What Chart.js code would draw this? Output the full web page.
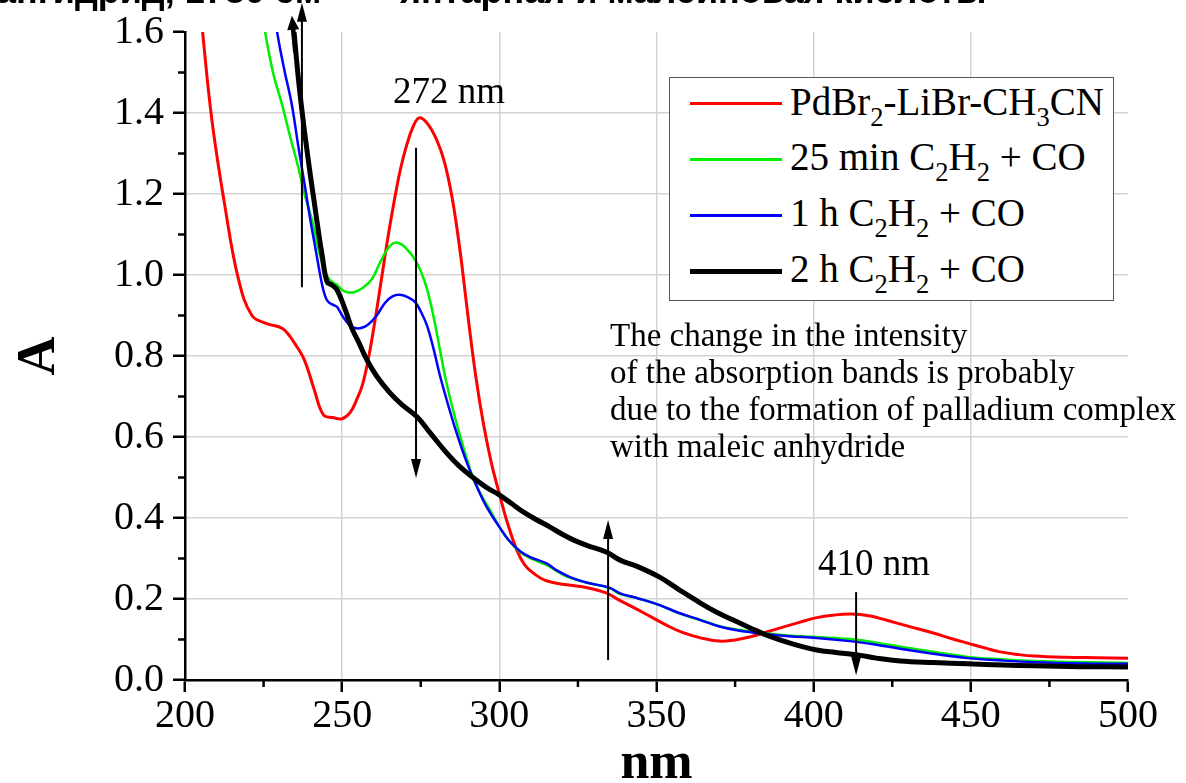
<!DOCTYPE html>
<html>
<head>
<meta charset="utf-8">
<script src="https://cdn.jsdelivr.net/npm/chart.js@4"></script>
<style>
  body { margin: 0; background: #fff; }
  #wrap { position: relative; width: 1186px; height: 783px; overflow: hidden; font-family: "Liberation Serif", serif; color: #000; }
  #chart { position: absolute; left: 0; top: 0; }
  .t { position: absolute; white-space: nowrap; }
  .ru { font-family: "Liberation Sans", sans-serif; font-weight: bold; font-size: 36px; line-height: 36px; top: -27px; }
  .peak { font-size: 37px; line-height: 37px; }
  .note { left: 610px; top: 317px; font-size: 33px; line-height: 37px; }
  #legendBox { position: absolute; left: 669px; top: 77px; width: 443px; height: 222px; border: 1.5px solid #555; background: #fff; }
  .lg { position: absolute; left: 790px; font-size: 39px; line-height: 39px; }
  .sw { position: absolute; left: 690px; width: 92px; }
  sub { font-size: 0.68em; vertical-align: -0.42em; line-height: 0; }
</style>
</head>
<body>
<div id="wrap">
  <canvas id="chart" width="1186" height="783"></canvas>
  <div class="t ru" style="left:-4px">ангидрид, 1780 см</div>
  <div class="t ru" style="left:400px">янтарная и малеиновая кислоты</div>

  <div class="t peak" style="left:393px; top:72px">272 nm</div>
  <div class="t peak" style="left:818px; top:544px">410 nm</div>

  <div class="t note">The change in the intensity<br>of the absorption bands is probably<br>due to the formation of palladium complex<br>with maleic anhydride</div>

  <div id="legendBox"></div>
  <div class="sw" style="top:101.5px; height:3px; background:#ff0000"></div>
  <div class="sw" style="top:157.5px; height:3px; background:#00ee00"></div>
  <div class="sw" style="top:213.5px; height:3px; background:#0000ff"></div>
  <div class="sw" style="top:268.5px; height:5px; background:#000"></div>
  <div class="t lg" style="top:82px">PdBr<sub>2</sub>-LiBr-CH<sub>3</sub>CN</div>
  <div class="t lg" style="top:137px">25 min C<sub>2</sub>H<sub>2</sub> + CO</div>
  <div class="t lg" style="top:193px">1 h C<sub>2</sub>H<sub>2</sub> + CO</div>
  <div class="t lg" style="top:249px">2 h C<sub>2</sub>H<sub>2</sub> + CO</div>
</div>
<script>
// series: [wavelength nm, absorbance]
const seriesLabels = ["PdBr2-LiBr-CH3CN", "25 min C2H2 + CO", "1 h C2H2 + CO", "2 h C2H2 + CO"];

const pdLiBr = [[205.0,1.66],[205.6,1.60],[208.6,1.38],[212.7,1.17],[217,0.99],[221.3,0.90],[226,0.88],[231,0.868],
  [235,0.83],[238,0.79],[241,0.72],[244,0.655],[247,0.648],[250,0.645],[252.5,0.66],[254.5,0.69],[256.5,0.73],
  [258.5,0.80],[260.5,0.89],[262.5,0.99],[264.5,1.09],[266.5,1.18],[268.5,1.26],[270.5,1.32],[272.5,1.365],
  [274.5,1.388],[277,1.375],[280,1.335],[282.5,1.28],[285,1.19],[287.5,1.06],[290,0.90],[292.5,0.75],[295,0.63],
  [297.5,0.535],[300,0.46],[302.5,0.39],[305.6,0.32],[308,0.285],[310.8,0.264],[315,0.245],[321.5,0.235],[328,0.228],
  [334,0.215],[338,0.198],[342.5,0.18],[348,0.157],[353,0.136],[358,0.118],[364,0.104],[370,0.096],[375,0.099],
  [380,0.107],[384,0.116],[390,0.13],[395.7,0.143],[401,0.154],[406,0.16],[412,0.163],[418,0.158],[423,0.148],
  [430,0.133],[438,0.116],[444,0.102],[449,0.091],[455,0.078],[459,0.07],[465,0.063],[470,0.059],[480,0.056],
  [490,0.055],[500,0.054]];

const min25 = [[224.8,1.64],[225.5,1.60],[228,1.50],[230.9,1.42],[233.5,1.34],[236,1.267],[238,1.20],[240.4,1.136],
  [242,1.08],[243.6,1.03],[245,1.0],[246.8,0.983],[248.5,0.975],[250,0.963],[252,0.957],[254,0.958],[256.5,0.968],
  [259.5,0.99],[262,1.03],[264.5,1.065],[266.8,1.08],[269,1.075],[271,1.06],[273,1.04],[275,1.01],[277,0.965],
  [279,0.90],[281,0.82],[283,0.74],[285.5,0.66],[288,0.59],[291.6,0.50],[294,0.46],[297,0.42],[300,0.378],[303,0.345],
  [306.6,0.316],[310,0.30],[315,0.284],[318,0.27],[322.5,0.252],[328,0.24],[335,0.227],[338.4,0.212],[344,0.202],
  [351,0.185],[357,0.165],[364,0.148],[370,0.133],[376,0.124],[384,0.116],[392,0.11],[401,0.106],[411.6,0.101],
  [420,0.092],[427.5,0.082],[438,0.07],[449,0.057],[460,0.051],[470,0.047],[485,0.044],[500,0.042]];

const hour1 = [[228.7,1.64],[229.3,1.60],[231.5,1.51],[234,1.42],[236,1.32],[238.2,1.217],[240,1.13],[241.4,1.07],
  [243,1.0],[244,0.963],[245,0.94],[246,0.931],[247.5,0.925],[248.4,0.921],[250,0.90],[251,0.889],[252.5,0.875],
  [254,0.869],[256,0.869],[258.2,0.877],[261,0.90],[263.6,0.931],[266,0.947],[268.4,0.951],[271,0.945],[273.2,0.933],
  [275,0.91],[277,0.875],[279,0.82],[281,0.755],[283.5,0.685],[286,0.62],[289.7,0.536],[293,0.475],[296,0.427],
  [300,0.378],[303,0.345],[306.6,0.318],[310,0.303],[315,0.288],[318,0.272],[322.5,0.254],[328,0.24],[335,0.228],
  [338.4,0.214],[344,0.202],[351,0.185],[357,0.166],[364,0.148],[370,0.132],[376,0.122],[384,0.114],[392,0.108],
  [401,0.104],[411.6,0.096],[420,0.087],[427.5,0.077],[438,0.065],[449,0.054],[460,0.048],[470,0.044],[485,0.041],
  [500,0.04]];

const hour2 = [[234.7,1.60],[236,1.49],[237.3,1.40],[238.6,1.32],[240,1.24],[241.3,1.17],[242.4,1.11],[243.6,1.05],
  [245.2,0.983],[246.8,0.975],[248.4,0.963],[251,0.914],[253,0.87],[255.5,0.83],[257.9,0.79],[261,0.75],
  [265.2,0.709],[269,0.68],[273.8,0.65],[278,0.61],[283.3,0.56],[287,0.53],[291.6,0.50],[296,0.475],[300,0.457],
  [304,0.435],[307.6,0.415],[312,0.395],[316,0.378],[320,0.36],[323.5,0.346],[328,0.332],[334,0.316],[338.4,0.296],
  [344,0.28],[351,0.254],[357,0.224],[364,0.19],[369,0.168],[374.4,0.148],[380,0.128],[385,0.111],[393,0.09],
  [401,0.074],[407,0.068],[414,0.062],[420,0.054],[427.5,0.047],[438,0.043],[449,0.04],[460,0.037],[470,0.035],
  [485,0.033],[500,0.032]];

const nmTicks = [200, 250, 300, 350, 400, 450, 500];
const nmMinor = [225, 275, 325, 375, 425, 475];
const aTicks = [0, 0.2, 0.4, 0.6, 0.8, 1.0, 1.2, 1.4, 1.6];
const aMinor = [0.1, 0.3, 0.5, 0.7, 0.9, 1.1, 1.3, 1.5];

// arrows: [nm from, A from, nm to, A to]
const bandArrows = [[237.2, 0.97, 237.2, 1.672], [273.5, 1.314, 273.5, 0.499],
  [334.6, 0.049, 334.6, 0.395], [413.5, 0.217, 413.5, 0.012]];
const tailArrow = [235.1, 1.55, 234.0, 1.64];

const toPts = (arr) => arr.map(p => ({ x: p[0], y: p[1] }));

function drawArrow(ctx, x1, y1, x2, y2, w, hl, hw) {
  const ang = Math.atan2(y2 - y1, x2 - x1);
  const c = Math.cos(ang), s = Math.sin(ang);
  ctx.lineWidth = w;
  ctx.beginPath();
  ctx.moveTo(x1, y1);
  ctx.lineTo(x2 - c * hl * 0.7, y2 - s * hl * 0.7);
  ctx.stroke();
  ctx.beginPath();
  ctx.moveTo(x2, y2);
  ctx.lineTo(x2 - c * hl + s * hw, y2 - s * hl - c * hw);
  ctx.lineTo(x2 - c * hl - s * hw, y2 - s * hl + c * hw);
  ctx.closePath();
  ctx.fill();
}

const extras = {
  id: "extras",
  afterDatasetsDraw(chart) {
    const { ctx, chartArea } = chart;
    const x = chart.scales.x, y = chart.scales.y;
    ctx.save();
    ctx.strokeStyle = "#000";
    ctx.fillStyle = "#000";
    ctx.lineWidth = 2.5;
    nmMinor.forEach(v => {
      const px = x.getPixelForValue(v);
      ctx.beginPath();
      ctx.moveTo(px, chartArea.bottom);
      ctx.lineTo(px, chartArea.bottom + 7);
      ctx.stroke();
    });
    aMinor.forEach(v => {
      const py = y.getPixelForValue(v);
      ctx.beginPath();
      ctx.moveTo(chartArea.left, py);
      ctx.lineTo(chartArea.left - 7, py);
      ctx.stroke();
    });
    bandArrows.forEach(a => {
      drawArrow(ctx, x.getPixelForValue(a[0]), y.getPixelForValue(a[1]),
        x.getPixelForValue(a[2]), y.getPixelForValue(a[3]), 2, 19, 5);
    });
    drawArrow(ctx, x.getPixelForValue(tailArrow[0]), y.getPixelForValue(tailArrow[1]),
      x.getPixelForValue(tailArrow[2]), y.getPixelForValue(tailArrow[3]), 4.5, 14, 6);
    ctx.restore();
  }
};

const gridColor = (hidden) => (ctx) =>
  ctx.tick && hidden.includes(ctx.tick.value) ? "rgba(0,0,0,0)" : "#d2d2d2";

new Chart(document.getElementById("chart"), {
  type: "line",
  data: {
    datasets: [
      { label: seriesLabels[0], data: toPts(pdLiBr), borderColor: "#ff0000", borderWidth: 3, order: 4 },
      { label: seriesLabels[1], data: toPts(min25), borderColor: "#00ee00", borderWidth: 2.5, order: 3 },
      { label: seriesLabels[2], data: toPts(hour1), borderColor: "#0000ff", borderWidth: 2.5, order: 2 },
      { label: seriesLabels[3], data: toPts(hour2), borderColor: "#000000", borderWidth: 5, order: 1 },
    ],
  },
  options: {
    responsive: false,
    animation: false,
    elements: { point: { radius: 0 }, line: { tension: 0.4, borderJoinStyle: "round" } },
    layout: { padding: { left: 0, top: 32, right: 58, bottom: 0 } },
    plugins: { legend: { display: false }, tooltip: { enabled: false } },
    scales: {
      x: {
        type: "linear",
        min: 200,
        max: 500,
        afterBuildTicks: (s) => { s.ticks = nmTicks.map(v => ({ value: v })); },
        afterFit: (s) => { s.height = 103; s.paddingLeft = 0; s.paddingRight = 0; },
        ticks: { color: "#000", padding: 0, maxRotation: 0, font: { family: "Liberation Serif", size: 40 } },
        grid: { color: gridColor([200, 500]), lineWidth: 1.5, tickColor: "#000", tickWidth: 2.5, tickLength: 12 },
        border: { color: "#000", width: 2.5 },
        title: { display: true, text: "nm", color: "#000", padding: { top: 0, bottom: 3 },
          font: { family: "Liberation Serif", size: 52, weight: "bold", lineHeight: 0.6 } },
      },
      y: {
        min: 0,
        max: 1.6,
        afterBuildTicks: (s) => { s.ticks = aTicks.map(v => ({ value: v })); },
        afterFit: (s) => { s.width = 185; s.paddingTop = 0; s.paddingBottom = 0; },
        ticks: { color: "#000", padding: 9, callback: (v) => v.toFixed(1), font: { family: "Liberation Serif", size: 40 } },
        grid: { color: gridColor([0, 1.6]), lineWidth: 1.5, tickColor: "#000", tickWidth: 2.5, tickLength: 12 },
        border: { color: "#000", width: 2.5 },
        title: { display: true, text: "A", color: "#000", padding: { top: 24, bottom: 0 },
          font: { family: "Liberation Serif", size: 54, weight: "bold", lineHeight: 0.6 } },
      },
    },
  },
  plugins: [extras],
});
</script>
</body>
</html>
